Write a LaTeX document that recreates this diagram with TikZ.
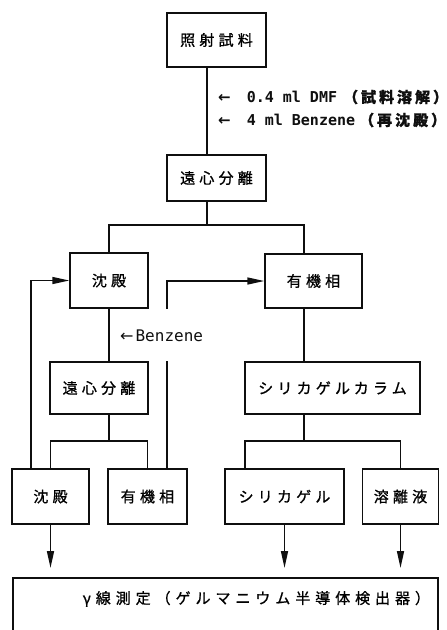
\documentclass[tikz,border=0pt]{standalone}
\usepackage{fontspec}
\usepackage{tikz}
\usetikzlibrary{calc,arrows.meta}
\usepackage{xcolor}
\newfontfamily\jp[LetterSpace=28,FakeBold=1]{Noto Sans CJK JP}
\newfontfamily\jpw[LetterSpace=33,FakeBold=1]{Noto Sans CJK JP}
\newfontfamily\jpn[LetterSpace=20,FakeBold=1]{Noto Sans CJK JP}
\newfontfamily\lat{DejaVu Sans Mono}
\newfontfamily\arr{DejaVu Sans}
\newcommand{\larr}{{\arr ←}}
\definecolor{ink}{RGB}{15,15,15}
\tikzset{
  fbox/.style={draw=ink,line width=1.5pt,inner sep=0pt,
    font=\fontsize{15}{18}\selectfont\jp},
  fline/.style={ink,line width=1.5pt},
  farrow/.style={fline,-{Triangle[length=17pt,width=7pt]}},
  fnote/.style={ink,inner sep=0pt,anchor=west,
    font=\fontsize{15}{18}\selectfont\lat\bfseries},
}
\begin{document}
\begin{tikzpicture}[x=1pt,y=-1pt]
  \useasboundingbox (0,0) rectangle (447,630);
  \clip (0,0) rectangle (447,630);
  % boxes
  \node[fbox,minimum width=99pt,minimum height=54pt] (irr)  at (216.5,40)    {照射試料};
  \node[fbox,minimum width=99pt,minimum height=46pt] (cen1) at (216.5,178)   {遠心分離};
  \node[fbox,minimum width=78pt,minimum height=55pt] (ppt1) at (109,280.5)   {沈殿};
  \node[fbox,minimum width=97pt,minimum height=54pt] (org1) at (313.5,281)   {有機相};
  \node[fbox,minimum width=98pt,minimum height=52pt] (cen2) at (99,388)      {遠心分離};
  \node[fbox,minimum width=175pt,minimum height=52pt] (col) at (332.5,388)   {シリカゲルカラム};
  \node[fbox,minimum width=77pt,minimum height=55pt] (ppt2) at (50.5,496.5)  {沈殿};
  \node[fbox,minimum width=79pt,minimum height=55pt] (org2) at (147.5,496.5) {有機相};
  \node[fbox,minimum width=119pt,minimum height=55pt] (sil) at (284.5,496.5) {シリカゲル};
  \node[fbox,minimum width=76pt,minimum height=55pt] (elu)  at (400.5,496.5) {溶離液};
  \node[fbox,anchor=north west,text width=425pt,align=left,
        text height=26pt,text depth=50pt] (gam) at (12,577)
        {\hspace*{70pt}{\jpw γ線測定（ゲルマニウム半導体検出器）}};
  % notes
  \node[fnote] (dmf) at (218,97)  {\larr\hspace{16pt}0.4 ml DMF\hspace{6pt}{\jpn（試料溶解）}};
  \node[fnote] (bzn) at (218,120) {\larr\hspace{16pt}4 ml Benzene\hspace{4pt}{\jpn（再沈殿）}};
  \node[fnote,font=\fontsize{16}{18}\selectfont\lat] (bz2) at (120,336) {\larr\hspace{2pt}Benzene};
  % connectors
  \coordinate (s1) at (207,225);
  \coordinate (s2) at (ppt1.south |- 0,441);
  \coordinate (s3) at ([xshift=-9.5pt]org1.south |- 0,441);
  \draw[fline] ([xshift=-9.5pt]irr.south) -- ([xshift=-9.5pt]cen1.north);
  \draw[fline] ([xshift=-9.5pt]cen1.south) -- (s1);
  \draw[fline] (ppt1.north) |- (s1) -| ([xshift=-9.5pt]org1.north);
  \draw[fline] (ppt1.south) -- (ppt1.south |- cen2.north);
  \draw[fline] (ppt1.south |- cen2.south) -- (s2);
  \draw[fline] (ppt2.north) |- (s2) -| (org2.north);
  \draw[fline] ([xshift=-9.5pt]org1.south) -- ([xshift=-9.5pt]org1.south |- col.north);
  \draw[fline] ([xshift=-9.5pt]org1.south |- col.south) -- (s3);
  \draw[fline] ([xshift=-39.5pt]sil.north) |- (s3) -| (elu.north);
  % returns
  \draw[farrow] ([xshift=-19.5pt]ppt2.north) |- (ppt1.west);
  \draw[fline] ([xshift=19.5pt]org2.north) -- ([xshift=19.5pt]org2.north |- cen2.north);
  \draw[farrow] ([xshift=19.5pt]org2.north |- ppt1.south) |- (org1.west);
  \foreach \n in {ppt2,sil,elu}
    \draw[farrow,shorten >=9pt] (\n.south) -- (\n.south |- gam.north);
\end{tikzpicture}
\end{document}
